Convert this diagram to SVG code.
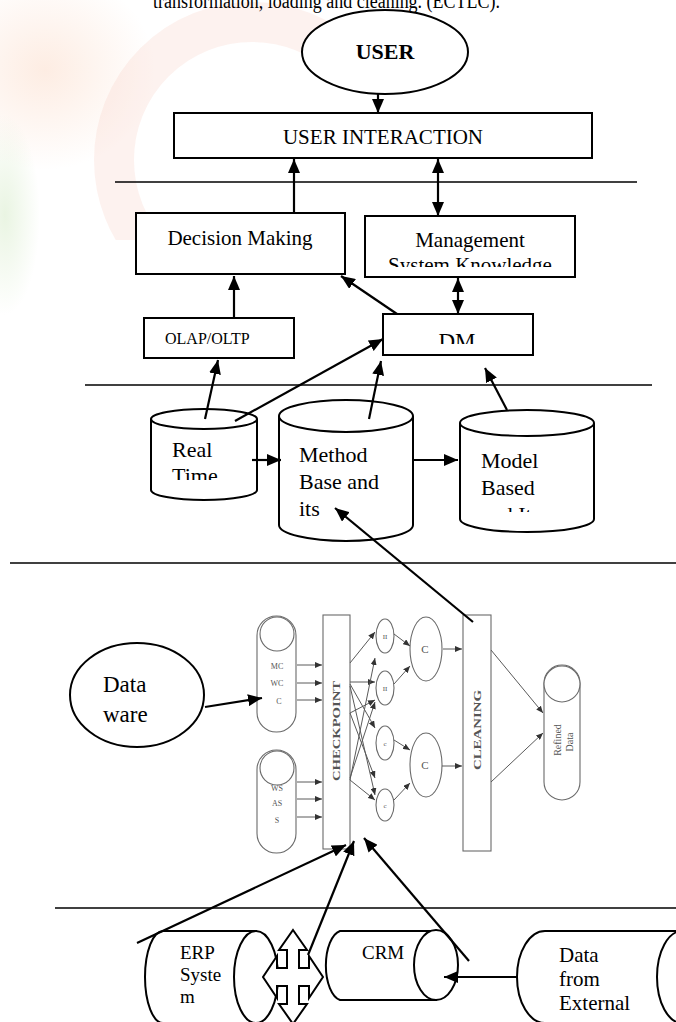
<svg xmlns="http://www.w3.org/2000/svg" width="676" height="1022" viewBox="0 0 676 1022">
<style>
.t{font-family:"Liberation Serif","Times New Roman",serif;fill:#000}
.box{fill:#fff;stroke:#000;stroke-width:2}
.sep{stroke:#000;stroke-width:1.5;fill:none}
.arr{stroke:#000;stroke-width:2.2;fill:none;marker-end:url(#ah)}
.darr{stroke:#000;stroke-width:2.2;fill:none;marker-end:url(#ah);marker-start:url(#ah)}
.g{fill:#fff;stroke:#6a6a6a;stroke-width:1.1}
.gl{stroke:#5a5a5a;stroke-width:1;fill:none;marker-end:url(#ahg)}
.gt{font-family:"Liberation Serif","Times New Roman",serif;fill:#555}
</style>
<defs>
<marker id="ah" viewBox="0 0 14 12" refX="14" refY="6" markerWidth="14" markerHeight="12" markerUnits="userSpaceOnUse" orient="auto-start-reverse"><path d="M0,0 L14,6 L0,12 z" fill="#000"/></marker>
<marker id="ahg" viewBox="0 0 7 6" refX="7" refY="3" markerWidth="7" markerHeight="6" markerUnits="userSpaceOnUse" orient="auto"><path d="M0,0 L7,3 L0,6 z" fill="#333"/></marker>
<clipPath id="cMgmt"><rect x="366" y="217" width="208" height="50"/></clipPath>
<clipPath id="cDM"><rect x="384" y="315" width="148" height="29"/></clipPath>
<clipPath id="cReal"><rect x="150" y="430" width="106" height="50"/></clipPath>
<clipPath id="cModel"><rect x="461" y="436" width="132" height="76"/></clipPath>
<clipPath id="cRing"><rect x="0" y="0" width="335" height="240"/></clipPath>
<radialGradient id="gOr" cx="0.5" cy="0.5" r="0.5"><stop offset="0" stop-color="#fbd6c0" stop-opacity="0.45"/><stop offset="1" stop-color="#fbd6c0" stop-opacity="0"/></radialGradient>
<radialGradient id="gGr" cx="0.5" cy="0.5" r="0.5"><stop offset="0" stop-color="#cfe8bf" stop-opacity="0.45"/><stop offset="1" stop-color="#cfe8bf" stop-opacity="0"/></radialGradient>
</defs>

<g id="watermark">
<ellipse cx="45" cy="70" rx="110" ry="100" fill="url(#gOr)"/>
<ellipse cx="5" cy="215" rx="35" ry="100" fill="url(#gGr)"/>
<circle cx="252" cy="160" r="138" fill="none" stroke="#f8cfc6" stroke-width="40" opacity="0.28" clip-path="url(#cRing)"/>
</g>

<text class="t" x="153" y="8" font-size="20" textLength="347" lengthAdjust="spacingAndGlyphs">transformation, loading and cleaning. (ECTLC).</text>

<g id="separators">
<line class="sep" x1="115" y1="182" x2="637" y2="182"/>
<line class="sep" x1="85" y1="385" x2="652" y2="385"/>
<line class="sep" x1="10" y1="563" x2="676" y2="563"/>
<line class="sep" x1="55" y1="908" x2="676" y2="908"/>
</g>

<g id="user">
<ellipse class="box" cx="385" cy="52" rx="83" ry="42"/>
<text class="t" x="385" y="59" font-size="22" font-weight="bold" text-anchor="middle">USER</text>
</g>
<g id="user-interaction">
<rect class="box" x="174" y="113" width="418" height="45"/>
<text class="t" x="383" y="144" font-size="21" text-anchor="middle">USER INTERACTION</text>
</g>
<g id="decision-making">
<rect class="box" x="136" y="213" width="209" height="61"/>
<text class="t" x="240" y="245" font-size="21" text-anchor="middle">Decision Making</text>
</g>
<g id="management">
<rect class="box" x="365" y="216" width="210" height="61"/>
<g clip-path="url(#cMgmt)">
<text class="t" x="470" y="247" font-size="21" text-anchor="middle">Management</text>
<text class="t" x="470" y="272" font-size="21" text-anchor="middle">System Knowledge</text>
</g>
</g>
<g id="olap">
<rect class="box" x="144" y="318" width="150" height="40"/>
<text class="t" x="165" y="344" font-size="16">OLAP/OLTP</text>
</g>
<g id="dm">
<rect class="box" x="383" y="314" width="150" height="41"/>
<text class="t" x="457" y="349" font-size="23" text-anchor="middle" clip-path="url(#cDM)">DM</text>
</g>

<g id="real-time">
<path class="box" d="M151,419 L151,490 A53,10 0 0 0 257,490 L257,419"/>
<ellipse class="box" cx="204" cy="419" rx="53" ry="10"/>
<g clip-path="url(#cReal)">
<text class="t" x="172" y="457" font-size="22">Real</text>
<text class="t" x="172" y="483" font-size="22">Time</text>
</g>
</g>
<g id="method-base">
<path class="box" d="M279,416 L279,525 A67,16 0 0 0 413,525 L413,416"/>
<ellipse class="box" cx="346" cy="416" rx="67" ry="16"/>
<text class="t" x="299" y="462" font-size="22">Method</text>
<text class="t" x="299" y="489" font-size="22">Base and</text>
<text class="t" x="299" y="516" font-size="22">its</text>
</g>
<g id="model-based">
<path class="box" d="M460,423 L460,519 A67,13 0 0 0 594,519 L594,423"/>
<ellipse class="box" cx="527" cy="423" rx="67" ry="13"/>
<g clip-path="url(#cModel)">
<text class="t" x="481" y="468" font-size="22">Model</text>
<text class="t" x="481" y="495" font-size="22">Based</text>
<text class="t" x="481" y="522" font-size="22">and Its</text>
</g>
</g>

<g id="data-ware">
<ellipse class="box" cx="137" cy="695" rx="67" ry="52"/>
<text class="t" x="103" y="692" font-size="23">Data</text>
<text class="t" x="103" y="722" font-size="23">ware</text>
</g>

<g id="warehouse-figure">
<rect class="g" x="257" y="616" width="39" height="116" rx="19.5"/>
<circle class="g" cx="277" cy="634" r="17"/>
<text class="gt" x="277" y="669" font-size="8" text-anchor="middle">MC</text>
<text class="gt" x="277" y="686" font-size="8" text-anchor="middle">WC</text>
<text class="gt" x="279" y="704" font-size="8" text-anchor="middle">C</text>
<rect class="g" x="257" y="750" width="39" height="103" rx="19.5"/>
<circle class="g" cx="277" cy="768" r="17"/>
<text class="gt" x="277" y="791" font-size="8" text-anchor="middle">WS</text>
<text class="gt" x="277" y="806" font-size="8" text-anchor="middle">AS</text>
<text class="gt" x="277" y="823" font-size="8" text-anchor="middle">S</text>
<rect class="g" x="323" y="615" width="27" height="234"/>
<text class="gt" transform="translate(340,731) rotate(-90)" font-size="10" font-weight="bold" text-anchor="middle" textLength="100" lengthAdjust="spacingAndGlyphs" fill="#333">CHECKPOINT</text>
<ellipse class="g" cx="385" cy="636" rx="9" ry="17"/>
<ellipse class="g" cx="385" cy="688" rx="9" ry="17"/>
<ellipse class="g" cx="385" cy="743" rx="9" ry="17"/>
<ellipse class="g" cx="385" cy="805" rx="9" ry="16"/>
<text class="gt" x="385" y="639" font-size="7" text-anchor="middle">II</text>
<text class="gt" x="385" y="691" font-size="7" text-anchor="middle">II</text>
<text class="gt" x="385" y="746" font-size="7" text-anchor="middle">c</text>
<text class="gt" x="385" y="808" font-size="7" text-anchor="middle">c</text>
<ellipse class="g" cx="426" cy="649" rx="16" ry="32"/>
<ellipse class="g" cx="426" cy="765" rx="16" ry="32"/>
<text class="gt" x="425" y="653" font-size="11" text-anchor="middle">C</text>
<text class="gt" x="425" y="769" font-size="11" text-anchor="middle">C</text>
<rect class="g" x="463" y="615" width="28" height="236"/>
<text class="gt" transform="translate(481,730) rotate(-90)" font-size="10" font-weight="bold" text-anchor="middle" textLength="80" lengthAdjust="spacingAndGlyphs" fill="#333">CLEANING</text>
<rect class="g" x="544" y="665" width="36" height="135" rx="18"/>
<circle class="g" cx="562" cy="684" r="18"/>
<text class="gt" transform="translate(561,740) rotate(-90)" font-size="10" text-anchor="middle">Refined</text>
<text class="gt" transform="translate(573,742) rotate(-90)" font-size="10" text-anchor="middle">Data</text>
<g id="figure-arrows">
<line class="gl" x1="297" y1="665" x2="322" y2="665"/>
<line class="gl" x1="297" y1="683" x2="322" y2="683"/>
<line class="gl" x1="297" y1="700" x2="322" y2="700"/>
<line class="gl" x1="297" y1="782" x2="322" y2="782"/>
<line class="gl" x1="297" y1="799" x2="322" y2="799"/>
<line class="gl" x1="297" y1="817" x2="322" y2="817"/>
<line class="gl" x1="350" y1="663" x2="375" y2="632"/>
<line class="gl" x1="350" y1="682" x2="375" y2="682"/>
<line class="gl" x1="350" y1="713" x2="375" y2="700"/>
<line class="gl" x1="350" y1="684" x2="375" y2="728"/>
<line class="gl" x1="350" y1="686" x2="375" y2="795"/>
<line class="gl" x1="350" y1="780" x2="375" y2="658"/>
<line class="gl" x1="350" y1="778" x2="375" y2="702"/>
<line class="gl" x1="350" y1="780" x2="375" y2="800"/>
<line class="gl" x1="350" y1="713" x2="375" y2="778"/>
<line class="gl" x1="394" y1="634" x2="410" y2="646"/>
<line class="gl" x1="394" y1="684" x2="410" y2="666"/>
<line class="gl" x1="394" y1="740" x2="410" y2="750"/>
<line class="gl" x1="394" y1="800" x2="410" y2="783"/>
<line class="gl" x1="443" y1="649" x2="462" y2="649"/>
<line class="gl" x1="442" y1="766" x2="462" y2="766"/>
<line class="gl" x1="491" y1="650" x2="543" y2="713"/>
<line class="gl" x1="491" y1="782" x2="543" y2="733"/>
</g>
</g>

<g id="erp">
<path class="box" d="M163,931 L256,931 L256,1023 L163,1023 A18,46 0 0 1 163,931 Z"/>
<ellipse class="box" cx="256" cy="977" rx="22" ry="46"/>
<text class="t" x="180" y="959" font-size="19">ERP</text>
<text class="t" x="180" y="981" font-size="19">Syste</text>
<text class="t" x="180" y="1003" font-size="19">m</text>
</g>
<g id="four-way-arrow">
<polygon points="293,930 307,950 299,950 299,968 309,968 309,956 323,977 309,998 309,986 299,986 299,1004 307,1004 293,1024 279,1004 287,1004 287,986 277,986 277,998 263,977 277,956 277,968 287,968 287,950 279,950" fill="#fff" stroke="#000" stroke-width="2" stroke-linejoin="miter"/>
</g>
<g id="crm">
<path class="box" d="M340,931 L436,931 L436,1000 L340,1000 A17,35 0 0 1 340,931 Z"/>
<ellipse class="box" cx="436" cy="965" rx="22" ry="35"/>
<text class="t" x="362" y="959" font-size="19">CRM</text>
</g>
<g id="external">
<path class="box" d="M545,931 L690,931 L690,1023 L545,1023 A28,46 0 0 1 545,931 Z"/>
<ellipse class="box" cx="682" cy="977" rx="25" ry="46"/>
<text class="t" x="559" y="962" font-size="21">Data</text>
<text class="t" x="559" y="986" font-size="21">from</text>
<text class="t" x="559" y="1010" font-size="21">External</text>
</g>

<g id="connectors">
<line class="arr" x1="378" y1="94" x2="378" y2="113"/>
<line class="arr" x1="294" y1="213" x2="294" y2="159"/>
<line class="darr" x1="438" y1="159" x2="438" y2="216"/>
<line class="arr" x1="234" y1="318" x2="234" y2="276"/>
<line class="arr" x1="397" y1="314" x2="341" y2="276"/>
<line class="darr" x1="458" y1="278" x2="458" y2="314"/>
<line class="arr" x1="205" y1="419" x2="218" y2="360"/>
<line class="arr" x1="235" y1="421" x2="383" y2="339"/>
<line class="arr" x1="369" y1="419" x2="381" y2="361"/>
<line class="arr" x1="507" y1="410" x2="485" y2="368"/>
<line class="arr" x1="252" y1="460" x2="281" y2="460"/>
<line class="arr" x1="414" y1="460" x2="458" y2="460"/>
<line class="arr" x1="473" y1="622" x2="335" y2="508"/>
<line class="arr" x1="205" y1="707" x2="262" y2="698"/>
<line class="arr" x1="137" y1="943" x2="346" y2="845"/>
<line class="arr" x1="308" y1="955" x2="354" y2="841"/>
<line class="arr" x1="469" y1="961" x2="364" y2="838"/>
<line class="arr" x1="517" y1="977" x2="444" y2="977"/>
</g>
</svg>
